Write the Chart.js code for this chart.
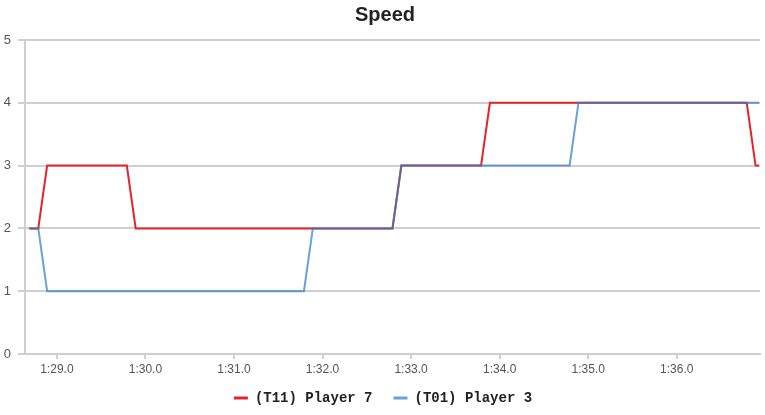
<!DOCTYPE html>
<html>
<head>
<meta charset="utf-8">
<script src="https://cdn.jsdelivr.net/npm/chart.js@4/dist/chart.umd.min.js"></script>
<style>
  html, body { margin: 0; padding: 0; background: #ffffff; }
  #wrap { width: 765px; height: 415px; }
</style>
</head>
<body>
<div id="wrap"><canvas id="c" width="765" height="415"></canvas></div>
<script>
// ---- data (seconds; 1:29.0 = 89) ----
const chartTitle = 'Speed';
const seriesNames = ['(T11) Player 7', '(T01) Player 3'];
const redTimes   = [88.69, 88.79, 88.89, 89.79, 89.89, 92.79, 92.89, 93.79, 93.89, 96.79, 96.89, 96.93];
const redSpeeds  = [2,     2,     3,     3,     2,     2,     3,     3,     4,     4,     3,     3];
const blueTimes  = [88.69, 88.79, 88.89, 91.79, 91.89, 92.79, 92.89, 94.79, 94.89, 96.93];
const blueSpeeds = [2,     2,     1,     1,     2,     2,     3,     3,     4,     4];
const xTickValues = [89, 90, 91, 92, 93, 94, 95, 96];
const xTickLabels = ['1:29.0', '1:30.0', '1:31.0', '1:32.0', '1:33.0', '1:34.0', '1:35.0', '1:36.0'];
const yTickValues = [0, 1, 2, 3, 4, 5];

const redPts = redTimes.map((t, i) => ({ x: t, y: redSpeeds[i] }));
const bluePts = blueTimes.map((t, i) => ({ x: t, y: blueSpeeds[i] }));

const RED = 'rgb(228,36,44)';
const BLUE = 'rgba(50,125,195,0.72)';
const GRID = '#cfcfcf';

// keep legend row low while leaving room for the x tick labels; nudge title/legend
const layoutTweak = {
  id: 'layoutTweak',
  beforeLayout(chart) {
    const lg = chart.legend;
    if (lg && !lg._patched) {
      const orig = lg.fit.bind(lg);
      lg.fit = function () { orig(); this.height = 39; };
      lg._patched = true;
    }
  },
  afterLayout(chart) {
    const lg = chart.legend;
    if (lg) { lg.top = chart.height - 45; lg.bottom = chart.height; lg.left += 6; }
    const tb = chart.titleBlock;
    if (tb) { tb.left += 10; }
  }
};

new Chart(document.getElementById('c'), {
  type: 'line',
  data: {
    datasets: [
      { label: seriesNames[0], data: redPts, borderColor: RED, backgroundColor: RED,
        borderWidth: 2, pointRadius: 0, tension: 0, order: 2 },
      { label: seriesNames[1], data: bluePts, borderColor: BLUE, backgroundColor: BLUE,
        borderWidth: 2, pointRadius: 0, tension: 0, order: 1 }
    ]
  },
  plugins: [layoutTweak],
  options: {
    responsive: false,
    animation: false,
    devicePixelRatio: 1,
    layout: { padding: { left: 0, right: 5, top: 0, bottom: 0 } },
    plugins: {
      title: {
        display: true, text: chartTitle, color: '#222',
        font: { family: 'Liberation Sans', size: 20, weight: 'bold', lineHeight: 1.2 },
        padding: { top: 3, bottom: 13 }
      },
      legend: {
        position: 'bottom',
        labels: {
          font: { family: 'Liberation Mono', size: 14, weight: 'bold' },
          color: '#222',
          boxWidth: 14, boxHeight: 3, padding: 21,
          sort: (a, b) => a.datasetIndex - b.datasetIndex,
          generateLabels: (chart) => {
            const items = Chart.defaults.plugins.legend.labels.generateLabels(chart);
            items.forEach(it => { it.lineWidth = 0; it.strokeStyle = 'rgba(0,0,0,0)'; });
            return items;
          }
        }
      },
      tooltip: { enabled: false }
    },
    scales: {
      x: {
        type: 'linear', min: 88.64, max: 96.94,
        afterBuildTicks: (scale) => { scale.ticks = xTickValues.map(v => ({ value: v })); },
        afterFit: (scale) => { scale.height = 22; },
        ticks: {
          callback: (v, i) => xTickLabels[i],
          color: '#555', padding: 3, maxRotation: 0, autoSkip: false,
          font: { family: 'Liberation Sans', size: 12 }
        },
        grid: { drawOnChartArea: false, drawTicks: true, tickLength: 5, color: GRID, lineWidth: 2 },
        border: { color: GRID, width: 2 }
      },
      y: {
        min: 0, max: 5,
        afterBuildTicks: (scale) => { scale.ticks = yTickValues.map(v => ({ value: v })); },
        afterFit: (scale) => { scale.width = 25; },
        ticks: {
          color: '#555', padding: 7,
          font: { family: 'Liberation Sans', size: 13 }
        },
        grid: { color: GRID, lineWidth: 2, tickLength: 7 },
        border: { color: GRID, width: 2 }
      }
    }
  }
});
</script>
</body>
</html>
